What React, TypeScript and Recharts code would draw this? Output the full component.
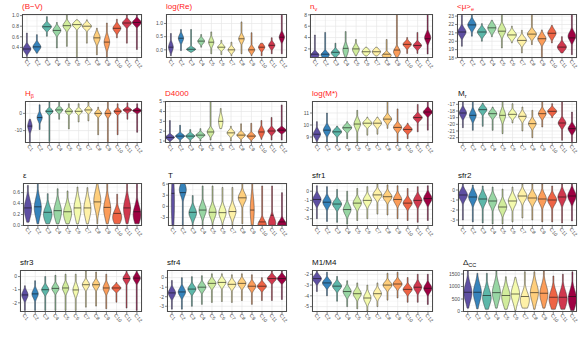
import React from 'react';
import { ComposedChart, Bar, XAxis, YAxis, CartesianGrid } from 'recharts';

const clusters = ['C1', 'C2', 'C3', 'C4', 'C5', 'C6', 'C7', 'C8', 'C9', 'C10', 'C11', 'C12'];
const clusterColors = ['#5E4FA2', '#3683BB', '#5DB7A9', '#98D6A4', '#D1EC9C', '#F4FAAD', '#FEF1A7', '#FECE7C', '#FB9C59', '#EE6445', '#D0384E', '#9E0142'];

// (B-V)
const bvLo = [0.23, 0.29, 0.61, 0.39, 0.42, 0.21, 0.48, 0.26, 0.21, 0.58, 0.48, 0.36];
const bvHi = [0.67, 0.64, 0.98, 0.87, 1.02, 0.92, 0.92, 0.76, 0.86, 0.93, 1.01, 1.01];
const bvMed = [0.37, 0.41, 0.79, 0.72, 0.81, 0.83, 0.8, 0.58, 0.5, 0.76, 0.86, 0.87];
const bvSd = [0.06, 0.06, 0.05, 0.06, 0.06, 0.05, 0.05, 0.08, 0.1, 0.06, 0.05, 0.05];
const bvTicks = [0.4, 0.6, 0.8, 1.0];

// log(Re)
const reLo = [-0.22, -0.03, -0.09, 0.1, -0.15, -0.18, -0.22, -0.15, -0.22, -0.22, -0.15, -0.15];
const reHi = [0.62, 0.77, 0.77, 0.58, 0.68, 0.36, 0.29, 1.06, 0.65, 0.25, 0.46, 1.35];
const reMed = [0.1, 0.44, 0.02, 0.33, 0.29, 0.1, 0.0, 0.42, 0.0, 0.1, 0.17, 0.48];
const reSd = [0.15, 0.13, 0.06, 0.09, 0.13, 0.08, 0.09, 0.12, 0.1, 0.1, 0.1, 0.13];
const reTicks = [0, 0.5, 1.0];

// n_v
const nvLo = [0.45, 0.5, 0.5, 0.5, 0.75, 0.75, 0.75, 0.5, 0.45, 1.2, 1.2, 1.1];
const nvHi = [4.45, 4.9, 3.0, 5.05, 3.65, 2.3, 2.3, 3.65, 8.1, 4.0, 4.9, 8.1];
const nvMed = [1.07, 1.07, 1.4, 2.1, 2.0, 1.5, 1.5, 1.07, 1.8, 2.8, 2.6, 3.8];
const nvMode = [0.9, 0.95, 1.3, 1.8, 1.9, 1.5, 1.5, 0.85, 1.5, 2.8, 2.6, 4.0];
const nvSd = [0.45, 0.45, 0.45, 0.8, 0.6, 0.45, 0.45, 0.4, 0.6, 0.45, 0.45, 0.7];
const nvTicks = [2, 4, 6, 8];

// <mu>_e
const muLo = [19.4, 20.6, 20.0, 20.55, 19.2, 19.8, 18.6, 19.6, 18.0, 19.8, 18.6, 18.4];
const muHi = [23.1, 23.2, 22.1, 22.5, 23.2, 21.8, 21.3, 23.2, 21.35, 21.9, 20.55, 23.2];
const muMed = [21.1, 21.95, 21.1, 21.6, 21.2, 20.75, 20.1, 20.85, 20.3, 20.95, 19.3, 20.4];
const muMode = [21.1, 21.95, 21.1, 21.6, 21.3, 20.75, 20.1, 20.85, 20.3, 20.95, 19.3, 20.6];
const muSd = [0.45, 0.45, 0.4, 0.45, 0.5, 0.4, 0.4, 0.4, 0.45, 0.45, 0.4, 0.5];
const muTicks = [18, 19, 20, 21, 22, 23];

// H_beta
const hbLo = [-17.2, -9.4, -16.4, -3.4, -9.0, -5.0, -4.4, -12.4, -17.2, -12.4, -3.4, -11.0];
const hbHi = [-3.4, 5.0, 6.6, 7.0, 5.6, 5.6, 6.6, 3.6, 7.2, 5.6, 6.2, 5.6];
const hbMed = [-7.4, -2.4, 1.2, 2.0, 1.2, 1.2, 2.0, 0.0, 0.0, 1.2, 2.0, 1.6];
const hbSd = [2.5, 2.0, 1.2, 1.2, 1.2, 1.2, 1.2, 1.3, 1.6, 1.2, 1.0, 0.9];
const hbTicks = [-10, 0];

// D4000
const dnLo = [0.93, 0.93, 0.93, 1.0, 1.1, 2.26, 1.0, 0.93, 0.93, 1.17, 1.1, 1.1];
const dnHi = [3.08, 2.6, 2.16, 2.26, 5.07, 4.3, 2.5, 2.75, 2.8, 3.08, 3.4, 4.67];
const dnMed = [1.37, 1.5, 1.5, 1.6, 1.92, 3.0, 1.83, 1.6, 1.5, 1.92, 2.02, 2.1];
const dnSd = [0.2, 0.2, 0.2, 0.2, 0.3, 0.55, 0.25, 0.22, 0.22, 0.35, 0.25, 0.2];
const dnTicks = [1, 2, 3, 4, 5];

// log(M*)
const msLo = [8.5, 8.57, 8.57, 8.86, 8.57, 9.15, 9.23, 9.72, 8.57, 8.86, 9.43, 9.57];
const msHi = [10.28, 11.0, 9.91, 10.28, 11.22, 10.66, 10.66, 12.0, 11.34, 10.15, 11.71, 12.0];
const msMed = [9.23, 9.57, 9.43, 9.77, 10.08, 10.15, 10.15, 10.49, 9.8, 9.63, 10.62, 11.08];
const msSd = [0.3, 0.3, 0.22, 0.22, 0.35, 0.22, 0.25, 0.25, 0.25, 0.22, 0.22, 0.22];
const msTicks = [9, 10, 11];

// M_r
const mrLo = [-20.5, -20.9, -20.3, -20.9, -21.4, -19.8, -21.0, -22.0, -20.4, -19.0, -22.4, -22.8];
const mrHi = [-16.6, -16.55, -16.8, -17.4, -16.55, -16.9, -17.4, -17.9, -16.55, -16.9, -16.55, -18.15];
const mrMed = [-18.3, -18.65, -17.8, -18.4, -18.65, -18.5, -18.8, -19.9, -18.4, -18.05, -19.8, -20.65];
const mrSd = [0.55, 0.6, 0.45, 0.45, 0.7, 0.45, 0.5, 0.5, 0.5, 0.4, 0.5, 0.5];
const mrTicks = [-22, -21, -20, -19, -18, -17];

// epsilon
const epLo = [0.06, 0.03, 0.03, 0.03, 0.03, 0.03, 0.03, 0.03, 0.03, 0.03, 0.03, 0.03];
const epHi = [0.73, 0.77, 0.58, 0.67, 0.63, 0.7, 0.69, 0.77, 0.77, 0.57, 0.77, 0.77];
const epMed = [0.32, 0.34, 0.24, 0.27, 0.25, 0.32, 0.32, 0.43, 0.33, 0.22, 0.32, 0.25];
const epMode = [0.3, 0.32, 0.2, 0.25, 0.22, 0.3, 0.3, 0.45, 0.3, 0.15, 0.3, 0.2];
const epSd = [0.16, 0.17, 0.13, 0.15, 0.14, 0.17, 0.17, 0.17, 0.17, 0.12, 0.17, 0.15];
const epTicks = [0, 0.2, 0.4, 0.6];

// T
const tLo = [-5.1, -5.1, -5.1, -5.1, -5.1, -5.1, -5.1, -4.7, -5.1, -5.1, -5.1, -5.1];
const tHi = [6.3, 6.3, 2.9, 5.5, 5.5, 5.1, 5.1, 6.3, 6.3, 5.5, 5.5, 3.7];
const tMed = [3.5, 3.7, -1.6, -1.0, -1.6, -1.7, -1.4, 2.3, -1.0, -4.2, -2.4, -4.2];
const tMode = [1.0, 4.5, -1.8, -1.0, -1.6, -1.7, -1.4, 2.3, -1.0, -5.0, -4.5, -5.0];
const tSd = [6.0, 1.6, 1.4, 1.5, 1.5, 1.5, 1.5, 1.3, 3.5, 1.2, 1.5, 1.1];
const tTicks = [-3, 0, 3, 6];

// sfr1
const s1Lo = [-3.0, -3.3, -3.4, -3.6, -3.2, -3.0, -2.5, -2.6, -3.0, -3.2, -3.4, -3.2];
const s1Hi = [0.6, 0.5, 0.2, 0.0, 0.3, 0.5, 0.8, 0.7, 0.6, 0.3, 0.5, 0.6];
const s1Med = [-0.9, -1.2, -1.4, -2.0, -1.3, -1.0, -0.4, -0.6, -0.9, -1.3, -1.0, -0.8];
const s1Sd = [0.45, 0.45, 0.4, 0.5, 0.45, 0.45, 0.4, 0.4, 0.45, 0.4, 0.45, 0.45];
const s1Ticks = [-3, -2, -1, 0];

// sfr2
const s2Lo = [-3.0, -3.2, -3.3, -3.4, -3.4, -3.2, -2.8, -3.0, -3.2, -3.2, -3.3, -3.1];
const s2Hi = [0.6, 0.5, 0.4, 0.3, 0.1, 0.3, 0.6, 0.6, 0.6, 0.4, 0.6, 0.6];
const s2Med = [-0.5, -0.7, -0.9, -1.1, -1.7, -1.1, -0.6, -0.8, -0.9, -1.0, -0.7, -0.6];
const s2Sd = [0.45, 0.5, 0.5, 0.5, 0.5, 0.5, 0.45, 0.45, 0.5, 0.45, 0.5, 0.5];
const s2Ticks = [-3, -2, -1, 0];

// sfr3
const s3Lo = [-2.58, -2.58, -2.58, -2.58, -2.58, -2.58, -2.33, -2.25, -2.45, -1.95, -2.4, -2.58];
const s3Hi = [-0.7, -0.32, 0.0, 0.1, 0.18, 0.18, 0.43, 0.35, 0.18, -0.45, 0.5, 0.5];
const s3Med = [-1.4, -1.32, -1.0, -0.9, -0.87, -1.02, -0.62, -0.62, -0.87, -0.87, -0.15, -0.12];
const s3Sd = [0.3, 0.3, 0.25, 0.25, 0.3, 0.35, 0.25, 0.25, 0.3, 0.18, 0.25, 0.25];
const s3Ticks = [-2, -1, 0];

// sfr4
const s4Lo = [-3.3, -3.3, -3.0, -2.8, -2.6, -2.5, -2.6, -2.4, -2.8, -2.4, -2.4, -2.3];
const s4Hi = [-0.3, 0.0, 0.1, 0.2, 0.4, 0.4, 0.3, 0.4, 0.3, 0.0, 0.7, 0.7];
const s4Med = [-1.6, -1.5, -1.2, -1.0, -0.6, -0.5, -0.7, -0.6, -0.9, -0.9, -0.1, -0.1];
const s4Sd = [0.4, 0.4, 0.35, 0.35, 0.35, 0.35, 0.35, 0.35, 0.35, 0.3, 0.3, 0.3];
const s4Ticks = [-3, -2, -1, 0];

// M1/M4
const mmLo = [-3.6, -4.0, -4.5, -5.0, -5.2, -5.4, -5.0, -4.4, -4.2, -4.6, -4.6, -4.8];
const mmHi = [-1.7, -1.8, -2.2, -2.6, -2.8, -3.0, -2.8, -1.9, -1.8, -2.3, -2.0, -2.0];
const mmMed = [-2.4, -2.8, -3.1, -3.6, -3.8, -4.2, -3.8, -3.0, -2.9, -3.4, -3.2, -3.3];
const mmSd = [0.3, 0.3, 0.3, 0.35, 0.35, 0.4, 0.35, 0.3, 0.3, 0.3, 0.35, 0.35];
const mmTicks = [-5, -4, -3, -2];

// Delta_CC
const dcLo = [135, 110, 90, 135, 90, 40, 135, 90, 135, 90, 90, 40];
const dcHi = [1630, 1525, 1525, 1620, 1390, 1370, 1590, 1590, 1620, 1420, 1490, 1590];
const dcMed = [770, 770, 640, 755, 640, 700, 600, 755, 730, 570, 570, 600];
const dcMode = [750, 750, 550, 750, 600, 700, 450, 750, 700, 500, 500, 500];
const dcSd = [350, 350, 320, 350, 330, 330, 300, 350, 350, 320, 330, 340];
const dcTicks = [0, 500, 1000, 1500];

const colRight = [142, 287, 433, 577];
const rowTop = [14, 101, 183, 270];
const rowBottom = [58, 143, 226, 312];
const YW = 20;
const XH = 16;
const RM = 8;
const TM = 4;

const sub = (base: string, s: string) => (
  <>
    {base}
    <sub style={{ fontSize: 5.5, verticalAlign: 'baseline', position: 'relative', top: 2 }}>{s}</sub>
  </>
);

const panelDefs: any[] = [
  { title: '(B\u2212V)', red: true, lo: bvLo, hi: bvHi, med: bvMed, sd: bvSd, domain: [0.2, 1.03], ticks: bvTicks, digits: 1, left: 22 },
  { title: 'log(Re)', red: true, lo: reLo, hi: reHi, med: reMed, sd: reSd, domain: [-0.31, 1.36], ticks: reTicks, digits: 1, left: 166 },
  { title: sub('n', 'v'), red: true, lo: nvLo, hi: nvHi, med: nvMed, mode: nvMode, sd: nvSd, domain: [0.4, 8.15], ticks: nvTicks, digits: 0, left: 310 },
  { title: sub('<\u03bc>', 'e'), red: true, lo: muLo, hi: muHi, med: muMed, mode: muMode, sd: muSd, domain: [18, 23.25], ticks: muTicks, digits: 0, left: 457 },
  { title: sub('H', '\u03b2'), red: true, lo: hbLo, hi: hbHi, med: hbMed, sd: hbSd, domain: [-17.2, 7.2], ticks: hbTicks, digits: 0, left: 25 },
  { title: 'D4000', red: true, lo: dnLo, hi: dnHi, med: dnMed, sd: dnSd, domain: [0.8, 5.07], ticks: dnTicks, digits: 0, left: 165 },
  { title: 'log(M*)', red: true, lo: msLo, hi: msHi, med: msMed, sd: msSd, domain: [8.5, 12.0], ticks: msTicks, digits: 0, left: 312 },
  { title: sub('M', 'r'), red: false, lo: mrLo, hi: mrHi, med: mrMed, sd: mrSd, domain: [-22.8, -16.5], ticks: mrTicks, digits: 0, left: 458 },
  { title: '\u03b5', red: false, lo: epLo, hi: epHi, med: epMed, mode: epMode, sd: epSd, domain: [-0.01, 0.775], ticks: epTicks, digits: 1, left: 23 },
  { title: 'T', red: false, lo: tLo, hi: tHi, med: tMed, mode: tMode, sd: tSd, domain: [-5.3, 6.3], ticks: tTicks, digits: 0, left: 168 },
  { title: 'sfr1', red: false, lo: s1Lo, hi: s1Hi, med: s1Med, sd: s1Sd, domain: [-3.8, 0.9], ticks: s1Ticks, digits: 0, left: 312 },
  { title: 'sfr2', red: false, lo: s2Lo, hi: s2Hi, med: s2Med, sd: s2Sd, domain: [-3.6, 0.7], ticks: s2Ticks, digits: 0, left: 458 },
  { title: 'sfr3', red: false, lo: s3Lo, hi: s3Hi, med: s3Med, sd: s3Sd, domain: [-2.7, 0.5], ticks: s3Ticks, digits: 0, left: 20 },
  { title: 'sfr4', red: false, lo: s4Lo, hi: s4Hi, med: s4Med, sd: s4Sd, domain: [-3.6, 0.8], ticks: s4Ticks, digits: 0, left: 167 },
  { title: 'M1/M4', red: false, lo: mmLo, hi: mmHi, med: mmMed, sd: mmSd, domain: [-5.5, -1.6], ticks: mmTicks, digits: 0, left: 312 },
  { title: sub('\u0394', 'CC'), red: false, lo: dcLo, hi: dcHi, med: dcMed, mode: dcMode, sd: dcSd, domain: [-20, 1660], ticks: dcTicks, digits: 0, left: 463 },
];

function Violin(props: any) {
  const { x, y, width, height, payload } = props;
  if (!payload || !height) return null;
  const { lo, hi, med, mode, sd, rel, color } = payload;
  const top = Math.min(y, y + height);
  const h = Math.abs(height);
  const cx = x + width / 2;
  const toPx = (v: number) => top + ((hi - v) / (hi - lo)) * h;
  const half = (v: number) => Math.max(0.45, (width / 2) * rel * Math.exp(-0.5 * ((v - mode) / sd) ** 2));
  const n = 60;
  const right: string[] = [];
  const left: string[] = [];
  for (let i = 0; i <= n; i++) {
    const v = hi - ((hi - lo) * i) / n;
    const py = toPx(v);
    const hw = half(v);
    right.push(`${cx + hw},${py}`);
    left.unshift(`${cx - hw},${py}`);
  }
  const d = `M${right.join(' L')} L${left.join(' L')} Z`;
  const my = toPx(med);
  const mh = half(med);
  return (
    <g>
      <path d={d} fill={color} stroke="#333" strokeWidth={0.5} />
      <line x1={cx - mh} x2={cx + mh} y1={my} y2={my} stroke="#111" strokeWidth={0.6} />
    </g>
  );
}

const XTick = (p: any) => (
  <text
    transform={`translate(${p.x - 1.5},${p.y + 0.5}) rotate(50)`}
    fontSize={5}
    fill="#4d4d4d"
    textAnchor="start"
    dy="0.35em"
  >
    {p.payload.value}
  </text>
);

function Panel({ def, idx }: { def: any; idx: number }) {
  const row = Math.floor(idx / 4);
  const col = idx % 4;
  const plotLeft = def.left;
  const plotW = colRight[col] - plotLeft;
  const plotTop = rowTop[row];
  const plotH = rowBottom[row] - plotTop;
  const mode = def.mode || def.med;
  const minSd = Math.min(...def.sd);
  const data = clusters.map((name, i) => ({
    name,
    range: [def.lo[i], def.hi[i]],
    lo: def.lo[i],
    hi: def.hi[i],
    med: def.med[i],
    mode: mode[i],
    sd: def.sd[i],
    rel: Math.max(0.35, Math.pow(minSd / def.sd[i], 0.7)),
    color: clusterColors[i],
  }));
  const ticks: number[] = def.ticks;
  const step = ticks.length > 1 ? ticks[1] - ticks[0] : 5;
  const minor: number[] = [];
  for (let i = -1; i < ticks.length; i++) {
    const m = (i < 0 ? ticks[0] - step : ticks[i]) + step / 2;
    if (m > def.domain[0] && m < def.domain[1]) minor.push(m);
  }
  return (
    <>
      <div style={{ position: 'absolute', left: plotLeft - YW, top: plotTop - TM }}>
        <ComposedChart
          width={YW + plotW + RM}
          height={plotH + XH + TM}
          data={data}
          margin={{ top: TM, right: RM, left: 0, bottom: 0 }}
          barCategoryGap="4%"
        >
          <CartesianGrid stroke="#ededed" strokeWidth={0.4} vertical={false} horizontalValues={minor} />
          <CartesianGrid stroke="#e6e6e6" strokeWidth={0.7} horizontalValues={ticks} />
          <XAxis
            dataKey="name"
            interval={0}
            height={XH}
            tick={<XTick />}
            tickSize={2}
            tickMargin={0}
            tickLine={{ stroke: '#333', strokeWidth: 0.6 }}
            axisLine={false}
          />
          <YAxis
            type="number"
            domain={def.domain}
            ticks={ticks}
            interval={0}
            allowDataOverflow
            width={YW}
            tickSize={2}
            tickMargin={1}
            tickLine={{ stroke: '#333', strokeWidth: 0.6 }}
            axisLine={false}
            tick={{ fontSize: 5, fill: '#4d4d4d' }}
            tickFormatter={(v: number) => v.toFixed(def.digits)}
          />
          <Bar dataKey="range" isAnimationActive={false} shape={(p: any) => <Violin {...p} />} />
        </ComposedChart>
      </div>
      <div
        style={{
          position: 'absolute',
          left: plotLeft,
          top: plotTop,
          width: plotW,
          height: plotH,
          border: '1px solid #4d4d4d',
          boxSizing: 'border-box',
          pointerEvents: 'none',
        }}
      />
      <div
        style={{
          position: 'absolute',
          left: plotLeft,
          top: plotTop - 12,
          fontSize: 8,
          lineHeight: '10px',
          color: def.red ? '#ff1a1a' : '#111',
          whiteSpace: 'nowrap',
        }}
      >
        {def.title}
      </div>
    </>
  );
}

export default function App() {
  return (
    <div
      style={{
        position: 'absolute',
        left: 0,
        top: 0,
        width: 581,
        height: 339,
        background: '#fff',
        overflow: 'hidden',
        fontFamily: '"Liberation Sans", Arial, sans-serif',
      }}
    >
      {panelDefs.map((def, i) => (
        <Panel key={i} def={def} idx={i} />
      ))}
    </div>
  );
}
